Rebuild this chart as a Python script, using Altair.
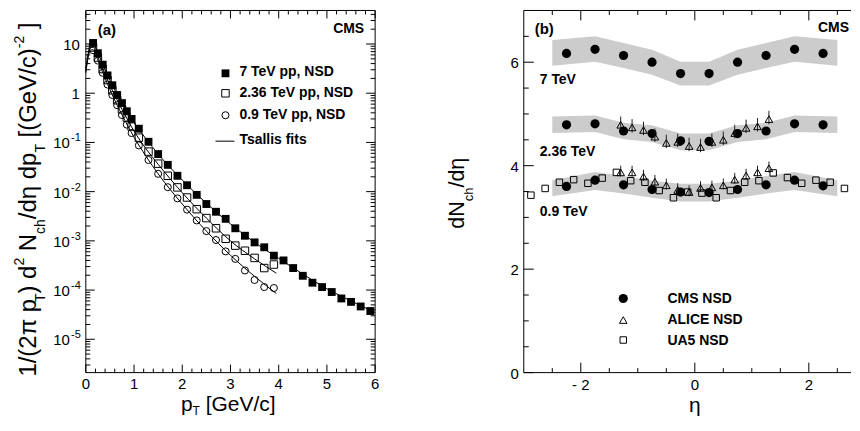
import altair as alt
import pandas as pd

FONT = "Liberation Sans"

# ---------------- panel (a): charged hadron pT spectra ----------------
pt_7 = [0.15, 0.25, 0.35, 0.45, 0.55, 0.65, 0.75, 0.85, 0.95, 1.1, 1.3, 1.5, 1.7, 1.9,
        2.1, 2.3, 2.5, 2.7, 2.9, 3.1, 3.3, 3.5, 3.7, 3.9, 4.1, 4.3, 4.5, 4.7, 4.9, 5.1,
        5.3, 5.5, 5.7, 5.9]
y_7 = [10.5, 6.5, 3.8, 2.3, 1.45, 0.92, 0.63, 0.43, 0.30, 0.19, 0.103, 0.058, 0.035, 0.021,
       0.0135, 0.0086, 0.0056, 0.0039, 0.0028, 0.0018, 0.00127, 0.00093, 0.00074, 0.00050,
       0.00040, 0.00028, 0.000195, 0.000141, 0.000115, 0.0000912, 0.0000675, 0.0000575,
       0.0000464, 0.0000375]
pt_low = [0.15, 0.25, 0.35, 0.45, 0.55, 0.65, 0.75, 0.85, 0.95, 1.1, 1.3, 1.5, 1.7, 1.9,
          2.1, 2.3, 2.5, 2.7, 2.9, 3.1, 3.3, 3.5, 3.7, 3.9]
y_236 = [8.5, 5.3, 3.1, 1.85, 1.15, 0.72, 0.47, 0.32, 0.21, 0.125, 0.065, 0.037, 0.021, 0.0122,
         0.0076, 0.0044, 0.0029, 0.0018, 0.0011, 0.00080, 0.00063, 0.00045, 0.00028, 0.00033]
y_09 = [7.5, 4.6, 2.6, 1.5, 0.92, 0.57, 0.36, 0.23, 0.155, 0.087, 0.044, 0.023, 0.0123, 0.0073,
        0.0043, 0.0026, 0.00158, 0.00104, 0.00061, 0.00043, 0.00025, 0.00016, 0.000115, 0.000110]

# Tsallis fit curves
fit_pt_7 = [0.0, 0.05, 0.1, 0.15, 0.25, 0.35, 0.5, 0.75, 1.0, 1.25, 1.5, 2.0, 2.5, 3.0, 3.5,
            4.0, 4.5, 5.0, 5.5, 6.0]
fit_7 = [3.0, 6.5, 9.8, 10.0, 6.6, 3.9, 1.85, 0.62, 0.25, 0.118, 0.058, 0.0172, 0.0058, 0.0022,
         0.00093, 0.00044, 0.000212, 0.000106, 0.00006, 0.000035]
fit_pt_low = [0.0, 0.05, 0.1, 0.15, 0.25, 0.35, 0.5, 0.75, 1.0, 1.25, 1.5, 2.0, 2.5, 3.0, 3.5, 3.95]
fit_236 = [2.8, 6.0, 8.5, 8.6, 5.4, 3.1, 1.45, 0.47, 0.17, 0.074, 0.036, 0.0095, 0.0029, 0.00100,
           0.00043, 0.00022]
fit_09 = [2.6, 5.5, 7.6, 7.6, 4.7, 2.65, 1.18, 0.365, 0.128, 0.052, 0.023, 0.0056, 0.00158,
          0.00051, 0.00019, 0.000085]

# ---------------- panel (b): dN/deta ----------------
eta_cms = [-2.25, -1.75, -1.25, -0.75, -0.25, 0.25, 0.75, 1.25, 1.75, 2.25]
cms_7 = [6.17, 6.25, 6.13, 6.00, 5.78, 5.78, 6.00, 6.13, 6.25, 6.17]
cms_236 = [4.79, 4.81, 4.67, 4.62, 4.48, 4.47, 4.62, 4.67, 4.81, 4.79]
cms_09 = [3.60, 3.72, 3.63, 3.54, 3.49, 3.48, 3.54, 3.63, 3.72, 3.61]

eta_band = [-2.5, -1.75, -1.25, -0.75, -0.25, 0.25, 0.75, 1.25, 1.75, 2.5]
band7_lo = [5.93, 6.01, 5.89, 5.76, 5.55, 5.55, 5.76, 5.89, 6.01, 5.93]
band7_hi = [6.43, 6.50, 6.37, 6.24, 6.01, 6.01, 6.24, 6.37, 6.50, 6.43]
band236_lo = [4.63, 4.65, 4.51, 4.46, 4.30, 4.30, 4.46, 4.51, 4.65, 4.63]
band236_hi = [4.95, 4.97, 4.83, 4.78, 4.62, 4.62, 4.78, 4.83, 4.97, 4.95]
band09_lo = [3.41, 3.53, 3.46, 3.38, 3.31, 3.31, 3.38, 3.46, 3.53, 3.41]
band09_hi = [3.72, 3.88, 3.80, 3.71, 3.65, 3.65, 3.71, 3.80, 3.88, 3.72]

eta_alice = [-1.3, -1.1, -0.9, -0.7, -0.5, -0.3, -0.1, 0.1, 0.3, 0.5, 0.7, 0.9, 1.1, 1.3]
alice_236 = [4.79, 4.74, 4.69, 4.56, 4.44, 4.46, 4.38, 4.36, 4.46, 4.50, 4.63, 4.73, 4.76, 4.90]
alice_236_up = [0.16, 0.16, 0.16, 0.16, 0.16, 0.16, 0.16, 0.16, 0.16, 0.16, 0.16, 0.16, 0.16, 0.16]
alice_236_dn = [0.10, 0.10, 0.10, 0.10, 0.10, 0.10, 0.10, 0.10, 0.10, 0.10, 0.10, 0.10, 0.10, 0.10]
alice_09 = [3.87, 3.87, 3.79, 3.69, 3.62, 3.53, 3.49, 3.57, 3.58, 3.62, 3.73, 3.81, 3.87, 3.95]
alice_09_up = [0.13, 0.13, 0.13, 0.13, 0.13, 0.13, 0.13, 0.13, 0.13, 0.13, 0.13, 0.13, 0.13, 0.13]
alice_09_dn = [0.08, 0.08, 0.08, 0.08, 0.08, 0.08, 0.08, 0.08, 0.08, 0.08, 0.08, 0.08, 0.08, 0.08]

eta_ua5 = [-2.875, -2.625, -2.375, -2.125, -1.875, -1.625, -1.375, -1.125, -0.875, -0.625,
           -0.375, -0.125, 0.125, 0.375, 0.625, 0.875, 1.125, 1.375, 1.625, 1.875, 2.125,
           2.375, 2.625, 2.875]
ua5_09 = [3.43, 3.56, 3.68, 3.73, 3.66, 3.76, 3.87, 3.71, 3.68, 3.52, 3.38, 3.49, 3.47, 3.38,
          3.52, 3.68, 3.71, 3.86, 3.77, 3.66, 3.72, 3.68, 3.56, 3.43]

# axis tick values / labels
a_xmajor = [0, 1, 2, 3, 4, 5, 6]
a_xlabels = ["0", "1", "2", "3", "4", "5", "6"]
a_xminor = [round(0.2 * i, 1) for i in range(1, 30) if i % 5 != 0]
a_ymajor = [10, 1, 0.1, 0.01, 0.001, 0.0001, 0.00001]
a_ylab_plain = [10, 1]
a_ylab_plain_t = ["10", "1"]
a_ylab_sup = [0.1, 0.01, 0.001, 0.0001, 0.00001]
a_ylab_sup_t = ["-1", "-2", "-3", "-4", "-5"]
a_yminor = [m * 10.0 ** k for k in range(-6, 2) for m in range(2, 10)
            if 2.1e-6 <= m * 10.0 ** k <= 48]
b_xmajor = [-2, 0, 2]
b_xlabels = ["- 2", "0", "2"]
b_xminor = [-2.5, -1.5, -1.0, -0.5, 0.5, 1.0, 1.5, 2.5]
b_ymajor = [0, 2, 4, 6]
b_ylabels = ["0", "2", "4", "6"]
b_yminor = [0.5, 1, 1.5, 2.5, 3, 3.5, 4.5, 5, 5.5, 6.5]

# ---------------- helpers ----------------
W1, W2, H = 290, 328, 363
xs_a = alt.Scale(domain=[0, 6], nice=False, zero=False)
ys_a = alt.Scale(type="log", domain=[2.1e-6, 48], nice=False)
xs_b = alt.Scale(domain=[-3, 2.74], nice=False, zero=False)
ys_b = alt.Scale(domain=[0, 7], nice=False, zero=False)

one = pd.DataFrame({"k": [0]})
AW = {" ": .278, "(": .333, ")": .333, "/": .278, "[": .278, "]": .278, "-": .333, ".": .278,
      "G": .778, "N": .722, "T": .611, "V": .667, "c": .5, "d": .556, "e": .556, "h": .556,
      "p": .556, "π": .556, "η": .556}


def tw(s, size):
    return sum(AW.get(ch, .556) for ch in s) * size


def txt(s, x, y, size, bold=False, align="left", baseline="alphabetic", angle=None):
    kw = dict(text=s, font=FONT, fontSize=size, color="black", align=align, baseline=baseline)
    if bold:
        kw["fontWeight"] = "bold"
    if angle is not None:
        kw["angle"] = angle
    return alt.Chart(one).mark_text(**kw).encode(x=alt.value(x), y=alt.value(y))


def rich(pieces, x0, y0, vertical=False):
    out, pos = [], 0.0
    for s, size, shift in pieces:
        lead = len(s) - len(s.lstrip(" "))
        trail = len(s) - len(s.rstrip(" "))
        core = s.strip(" ")
        pos += tw(" " * lead, size)
        if vertical:
            out.append(txt(core, x0 + shift, y0 - pos, size, angle=270))
        else:
            out.append(txt(core, x0 + pos, y0 + shift, size))
        pos += tw(core, size) + tw(" " * trail, size)
    return out


def hline(x1, x2, y):
    return alt.Chart(one).mark_rule(color="black", strokeWidth=1).encode(
        x=alt.value(x1), x2=alt.value(x2), y=alt.value(y))


def vline(x, y1, y2):
    return alt.Chart(one).mark_rule(color="black", strokeWidth=1).encode(
        x=alt.value(x), y=alt.value(y1), y2=alt.value(y2))


def xticks(vals, scale, length, top=True):
    base = alt.Chart(pd.DataFrame({"v": vals})).mark_rule(color="black", strokeWidth=1)
    xe = alt.X("v:Q", scale=scale, axis=None)
    out = [base.encode(x=xe, y=alt.value(H), y2=alt.value(H - length))]
    if top:
        out.append(base.encode(x=xe, y=alt.value(0), y2=alt.value(length)))
    return out


def yticks(vals, scale, length, W, right=True):
    base = alt.Chart(pd.DataFrame({"v": vals})).mark_rule(color="black", strokeWidth=1)
    ye = alt.Y("v:Q", scale=scale, axis=None)
    out = [base.encode(y=ye, x=alt.value(0), x2=alt.value(length))]
    if right:
        out.append(base.encode(y=ye, x=alt.value(W), x2=alt.value(W - length)))
    return out


def Xa(f):
    return alt.X(f, type="quantitative", scale=xs_a, axis=None)


def Ya(f):
    return alt.Y(f, type="quantitative", scale=ys_a, axis=None)


def Xb(f):
    return alt.X(f, type="quantitative", scale=xs_b, axis=None)


def Yb(f):
    return alt.Y(f, type="quantitative", scale=ys_b, axis=None)


# ---------------- panel (a) ----------------
d7 = pd.DataFrame({"pt": pt_7, "v": y_7})
d236 = pd.DataFrame({"pt": pt_low, "v": y_236})
d09 = pd.DataFrame({"pt": pt_low, "v": y_09})
f7 = pd.DataFrame({"pt": fit_pt_7, "v": fit_7})
f236 = pd.DataFrame({"pt": fit_pt_low, "v": fit_236})
f09 = pd.DataFrame({"pt": fit_pt_low, "v": fit_09})

la = []
la += xticks(a_xminor, xs_a, 4) + xticks(a_xmajor, xs_a, 8)
la += yticks(a_yminor, ys_a, 4.5, W1) + yticks(a_ymajor, ys_a, 9, W1)
la += [hline(0, W1, 0), hline(0, W1, H), vline(0, 0, H), vline(W1, 0, H)]
for f in (f7, f236, f09):
    la.append(alt.Chart(f).mark_line(color="black", strokeWidth=1, interpolate="monotone")
              .encode(x=Xa("pt"), y=Ya("v")))
la.append(alt.Chart(d7).mark_point(shape="square", filled=True, size=62, color="black", opacity=1)
          .encode(x=Xa("pt"), y=Ya("v")))
la.append(alt.Chart(d236).mark_point(shape="square", filled=False, size=56, color="black",
                                     strokeWidth=1, opacity=1).encode(x=Xa("pt"), y=Ya("v")))
la.append(alt.Chart(d09).mark_point(shape="circle", filled=False, size=50, color="black",
                                    strokeWidth=1, opacity=1).encode(x=Xa("pt"), y=Ya("v")))
# tick labels
la.append(alt.Chart(pd.DataFrame({"v": a_xmajor, "t": a_xlabels}))
          .mark_text(font=FONT, fontSize=15, align="center", baseline="alphabetic", color="black")
          .encode(x=Xa("v"), y=alt.value(H + 16), text="t:N"))
la.append(alt.Chart(pd.DataFrame({"v": a_ylab_plain, "t": a_ylab_plain_t}))
          .mark_text(font=FONT, fontSize=15, align="right", baseline="middle", color="black", dy=1)
          .encode(y=Ya("v"), x=alt.value(-6), text="t:N"))
la.append(alt.Chart(pd.DataFrame({"v": a_ylab_sup}))
          .mark_text(font=FONT, fontSize=15, align="right", baseline="middle", color="black",
                     dy=1, text="10")
          .encode(y=Ya("v"), x=alt.value(-16)))
la.append(alt.Chart(pd.DataFrame({"v": a_ylab_sup, "t": a_ylab_sup_t}))
          .mark_text(font=FONT, fontSize=11, align="right", baseline="middle", color="black", dy=-4)
          .encode(y=Ya("v"), x=alt.value(-5), text="t:N"))
# legend
la.append(alt.Chart(one).mark_point(shape="square", filled=True, size=62, color="black", opacity=1)
          .encode(x=alt.value(140), y=alt.value(63)))
la.append(alt.Chart(one).mark_point(shape="square", filled=False, size=56, color="black",
                                    strokeWidth=1, opacity=1)
          .encode(x=alt.value(140), y=alt.value(83)))
la.append(alt.Chart(one).mark_point(shape="circle", filled=False, size=50, color="black",
                                    strokeWidth=1, opacity=1)
          .encode(x=alt.value(140), y=alt.value(105)))
la.append(hline(130, 149, 131))
for t, yy in (("7 TeV pp, NSD", 62), ("2.36 TeV pp, NSD", 83), ("0.9 TeV pp, NSD", 105),
              ("Tsallis fits", 130)):
    la.append(txt(t, 154, yy, 14, bold=True, baseline="middle"))
la.append(txt("(a)", 12, 19.5, 15, bold=True, baseline="middle"))
la.append(txt("CMS", 279, 18.5, 14, bold=True, align="right", baseline="middle"))
# axis titles
la += rich([("1/(2π p", 24, 0), ("T", 14, 9), (") d", 24, 0), ("2", 14, -11.5),
            (" N", 24, 0), ("ch", 14, 9), ("/dη dp", 24, 0), ("T", 14, 9),
            (" [(GeV/c)", 24, 0), ("-2", 14, -11.5), (" ]", 24, 0)],
           -50, 367, vertical=True)
la += rich([("p", 21, 0), ("T", 12, 4), (" [GeV/c]", 21, 0)], 95.3, H + 38.5)

left = alt.layer(*la).properties(width=W1, height=H)

# ---------------- panel (b) ----------------
lb = []
for lo, hi in ((band7_lo, band7_hi), (band236_lo, band236_hi), (band09_lo, band09_hi)):
    lb.append(alt.Chart(pd.DataFrame({"eta": eta_band, "lo": lo, "hi": hi}))
              .mark_area(color="#cccccc", opacity=1)
              .encode(x=Xb("eta"), y=Yb("lo"), y2="hi:Q"))
lb += xticks(b_xminor, xs_b, 4.5) + xticks(b_xmajor, xs_b, 10)
lb += yticks(b_yminor, ys_b, 5, W2, right=False) + yticks(b_ymajor, ys_b, 10, W2, right=False)
lb += [hline(0, W2, 0), hline(0, W2, H), vline(0, 0, H)]
cms = pd.DataFrame({"eta": eta_cms * 3, "v": cms_7 + cms_236 + cms_09})
lb.append(alt.Chart(cms).mark_point(shape="circle", filled=True, size=85, color="black", opacity=1)
          .encode(x=Xb("eta"), y=Yb("v")))
alice = pd.DataFrame({
    "eta": eta_alice * 2,
    "v": alice_236 + alice_09,
    "hi": [a + b for a, b in zip(alice_236, alice_236_up)] + [a + b for a, b in zip(alice_09, alice_09_up)],
    "lo": [a - b for a, b in zip(alice_236, alice_236_dn)] + [a - b for a, b in zip(alice_09, alice_09_dn)],
})
lb.append(alt.Chart(alice).mark_rule(color="#222222", strokeWidth=1)
          .encode(x=Xb("eta"), y=Yb("lo"), y2="hi:Q"))
lb.append(alt.Chart(alice).mark_point(shape="triangle-up", filled=False, size=58, color="black",
                                      strokeWidth=1, opacity=1)
          .encode(x=Xb("eta"), y=Yb("v")))
lb.append(alt.Chart(pd.DataFrame({"eta": eta_ua5, "v": ua5_09}))
          .mark_point(shape="square", filled=False, size=42, color="black", strokeWidth=1,
                      opacity=1, clip=True)
          .encode(x=Xb("eta"), y=Yb("v")))
# tick labels
lb.append(alt.Chart(pd.DataFrame({"v": b_xmajor, "t": b_xlabels}))
          .mark_text(font=FONT, fontSize=15, align="center", baseline="alphabetic", color="black")
          .encode(x=Xb("v"), y=alt.value(H + 17), text="t:N"))
lb.append(alt.Chart(pd.DataFrame({"v": b_ymajor, "t": b_ylabels}))
          .mark_text(font=FONT, fontSize=15, align="right", baseline="middle", color="black", dy=1)
          .encode(y=Yb("v"), x=alt.value(-5), text="t:N"))
# labels and legend
lb.append(txt("(b)", 11, 18.5, 15, bold=True, baseline="middle"))
lb.append(txt("CMS", 326, 18, 14, bold=True, align="right", baseline="middle"))
lb.append(txt("7 TeV", 16, 69.5, 14, bold=True, baseline="middle"))
lb.append(txt("2.36 TeV", 16, 142, 14, bold=True, baseline="middle"))
lb.append(txt("0.9 TeV", 16, 202.5, 14, bold=True, baseline="middle"))
lb.append(alt.Chart(one).mark_point(shape="circle", filled=True, size=85, color="black", opacity=1)
          .encode(x=alt.value(99.7), y=alt.value(288.7)))
lb.append(alt.Chart(one).mark_point(shape="triangle-up", filled=False, size=58, color="black",
                                    strokeWidth=1, opacity=1)
          .encode(x=alt.value(99.7), y=alt.value(310.3)))
lb.append(alt.Chart(one).mark_point(shape="square", filled=False, size=42, color="black",
                                    strokeWidth=1, opacity=1)
          .encode(x=alt.value(99.7), y=alt.value(330.3)))
for t, yy in (("CMS NSD", 289), ("ALICE NSD", 310.5), ("UA5 NSD", 331.5)):
    lb.append(txt(t, 144, yy, 14, bold=True, baseline="middle"))
# axis titles
lb += rich([("dN", 21.5, 0), ("ch", 13, 9), ("/dη", 21.5, 0)], -60, 218.7, vertical=True)
lb.append(alt.Chart(one).mark_text(text="η", font=FONT, fontSize=21, align="center",
                                   baseline="alphabetic", color="black")
          .encode(x=alt.X("z:Q", scale=xs_b, axis=None), y=alt.value(H + 39.5))
          .transform_calculate(z="0"))

right = alt.layer(*lb).properties(width=W2, height=H)

chart = (alt.hconcat(left, right, spacing=67)
         .properties(padding={"left": 5, "top": 1, "right": 0, "bottom": 0}, background="white")
         .configure_view(stroke=None))

chart.save("out.html", embed_options={"renderer": "svg", "actions": False})
